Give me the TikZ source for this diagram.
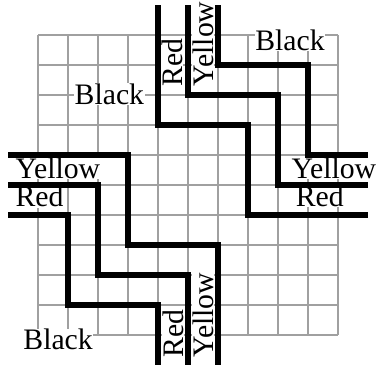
\documentclass[tikz,border=0pt]{standalone}
\usepackage{fontspec}
\setmainfont{Liberation Serif}
\definecolor{gridgray}{RGB}{160,160,160}
\begin{document}
\begin{tikzpicture}[x=1cm, y=1cm,
    lbl/.style={fill=white, inner sep=0.5pt, font=\fontsize{28.2}{30}\selectfont},
    wall/.style={line width=5pt}]
    \useasboundingbox (-1.267,-1.1) rectangle (11.367,11.167);
    \draw[gridgray, line width=2.8pt, step=1] (0,0) grid (10,10);

    \node[lbl, anchor=base] (blacktl) at (2.38,7.7) {Black};
    \node[lbl, anchor=base] (blacktr) at (8.4,9.5) {Black};
    \node[lbl, anchor=base] (blackbl) at (0.67,-0.5) {Black};
    \node[lbl, anchor=base west, rotate=90] (redtop) at (4.82,8.27) {Red};
    \node[lbl, anchor=base west, rotate=90] (yellowtop) at (5.84,8.27) {Yellow};
    \node[lbl, anchor=base west, rotate=90] (redbot) at (4.84,-0.77) {Red};
    \node[lbl, anchor=base west, rotate=90] (yellowbot) at (5.84,-0.77) {Yellow};
    \node[lbl, anchor=base west] (yellowleft) at (-0.77,5.23) {Yellow};
    \node[lbl, anchor=base west] (redleft) at (-0.77,4.27) {Red};
    \node[lbl, anchor=base west] (yellowright) at (8.43,5.23) {Yellow};
    \node[lbl, anchor=base west] (redright) at (8.57,4.28) {Red};

    \draw[wall] (6,11) -- (6,9) -- (9,9) -- (9,6) -- (11,6);
    \draw[wall] (5,11) -- (5,8) -- (8,8) -- (8,5) -- (11,5);
    \draw[wall] (4,11) -- (4,7) -- (7,7) -- (7,4) -- (11,4);
    \draw[wall] (4,-1) -- (4,1) -- (1,1) -- (1,4) -- (-1,4);
    \draw[wall] (5,-1) -- (5,2) -- (2,2) -- (2,5) -- (-1,5);
    \draw[wall] (6,-1) -- (6,3) -- (3,3) -- (3,6) -- (-1,6);
\end{tikzpicture}
\end{document}
